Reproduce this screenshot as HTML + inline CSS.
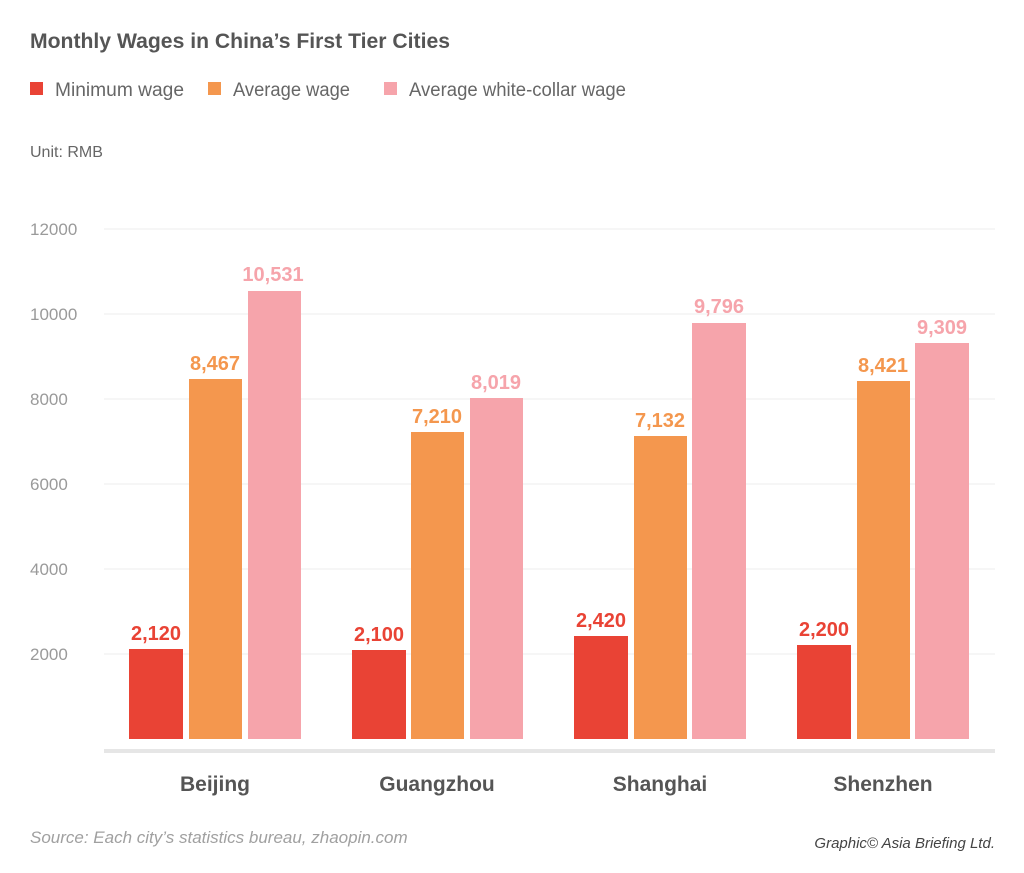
<!DOCTYPE html>
<html><head><meta charset="utf-8"><style>
html,body{margin:0;padding:0;background:#fff}
svg{display:block}
text{font-family:"Liberation Sans",sans-serif}
</style></head><body>
<svg width="1024" height="873" viewBox="0 0 1024 873" xmlns="http://www.w3.org/2000/svg">
<text x="30" y="48" font-size="21" font-weight="bold" fill="#555" textLength="420" lengthAdjust="spacingAndGlyphs">Monthly Wages in China’s First Tier Cities</text>
<rect x="30" y="82" width="13" height="13" fill="#e94335"/>
<text x="55" y="96" font-size="19" fill="#666" textLength="129" lengthAdjust="spacingAndGlyphs">Minimum wage</text>
<rect x="208" y="82" width="13" height="13" fill="#f4974e"/>
<text x="233" y="96" font-size="19" fill="#666" textLength="117" lengthAdjust="spacingAndGlyphs">Average wage</text>
<rect x="384" y="82" width="13" height="13" fill="#f6a4ab"/>
<text x="409" y="96" font-size="19" fill="#666" textLength="217" lengthAdjust="spacingAndGlyphs">Average white-collar wage</text>
<text x="30" y="157" font-size="16" fill="#666">Unit: RMB</text>
<g stroke="#ececec" stroke-width="1">
<line x1="104" y1="229" x2="995" y2="229"/><line x1="104" y1="314" x2="995" y2="314"/>
<line x1="104" y1="399" x2="995" y2="399"/><line x1="104" y1="484" x2="995" y2="484"/>
<line x1="104" y1="569" x2="995" y2="569"/><line x1="104" y1="654" x2="995" y2="654"/>
</g>
<g font-size="17" fill="#9a9a9a">
<text x="30" y="235">12000</text><text x="30" y="320">10000</text><text x="30" y="405">8000</text>
<text x="30" y="490">6000</text><text x="30" y="575">4000</text><text x="30" y="660">2000</text>
</g>
<rect x="104" y="749" width="891" height="4" fill="#e6e6e6"/>
<g>
<rect x="129" y="649" width="54" height="90" fill="#e94335"/>
<rect x="189" y="379" width="53" height="360" fill="#f4974e"/>
<rect x="248" y="291" width="53" height="448" fill="#f6a4ab"/>
<rect x="352" y="650" width="54" height="89" fill="#e94335"/>
<rect x="411" y="432" width="53" height="307" fill="#f4974e"/>
<rect x="470" y="398" width="53" height="341" fill="#f6a4ab"/>
<rect x="574" y="636" width="54" height="103" fill="#e94335"/>
<rect x="634" y="436" width="53" height="303" fill="#f4974e"/>
<rect x="692" y="323" width="54" height="416" fill="#f6a4ab"/>
<rect x="797" y="645" width="54" height="94" fill="#e94335"/>
<rect x="857" y="381" width="53" height="358" fill="#f4974e"/>
<rect x="915" y="343" width="54" height="396" fill="#f6a4ab"/>
</g>
<g font-size="20" font-weight="bold" text-anchor="middle">
<text x="156" y="640" fill="#e94335">2,120</text>
<text x="215" y="370" fill="#f4974e">8,467</text>
<text x="273" y="281" fill="#f6a4ab">10,531</text>
<text x="379" y="641" fill="#e94335">2,100</text>
<text x="437" y="423" fill="#f4974e">7,210</text>
<text x="496" y="389" fill="#f6a4ab">8,019</text>
<text x="601" y="627" fill="#e94335">2,420</text>
<text x="660" y="427" fill="#f4974e">7,132</text>
<text x="719" y="313" fill="#f6a4ab">9,796</text>
<text x="824" y="636" fill="#e94335">2,200</text>
<text x="883" y="372" fill="#f4974e">8,421</text>
<text x="942" y="334" fill="#f6a4ab">9,309</text>
</g>
<g font-size="21" font-weight="bold" fill="#555" text-anchor="middle">
<text x="215" y="791">Beijing</text>
<text x="437" y="791">Guangzhou</text>
<text x="660" y="791">Shanghai</text>
<text x="883" y="791">Shenzhen</text>
</g>
<text x="30" y="843" font-size="17" font-style="italic" fill="#a0a0a0">Source: Each city’s statistics bureau, zhaopin.com</text>
<text x="995" y="848" font-size="15" font-style="italic" fill="#444" text-anchor="end">Graphic© Asia Briefing Ltd.</text>
</svg>
</body></html>
